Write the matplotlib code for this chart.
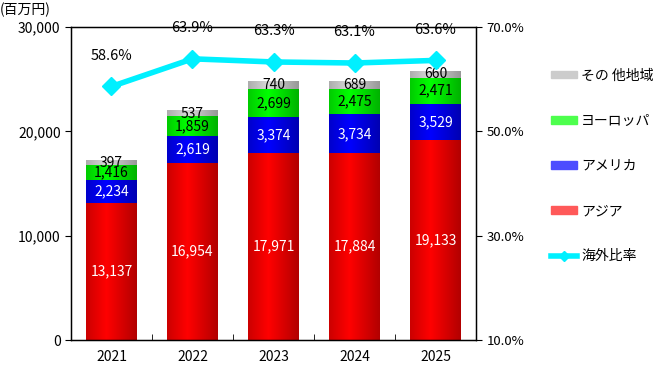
import matplotlib

matplotlib.use("Agg")
import matplotlib.pyplot as plt
import numpy as np
from matplotlib.lines import Line2D
from matplotlib.patches import Patch

plt.rcParams["font.family"] = ["Noto Sans CJK JP", "DejaVu Sans"]

years = ["2021", "2022", "2023", "2024", "2025"]
asia = [13137, 16954, 17971, 17884, 19133]
america = [2234, 2619, 3374, 3734, 3529]
europe = [1416, 1859, 2699, 2475, 2471]
other = [397, 537, 740, 689, 660]
overseas_ratio = [58.6, 63.9, 63.3, 63.1, 63.6]

series = [
    ("アジア", asia, (1.0, 0.0, 0.0), "white"),
    ("アメリカ", america, (0.0, 0.0, 1.0), "white"),
    ("ヨーロッパ", europe, (0.0, 1.0, 0.0), "black"),
    ("その 他地域", other, (0.85, 0.85, 0.85), "black"),
]


def gradient(rgb, n=64):
    # bright just left of centre, darker towards both edges (more on the right)
    t = np.linspace(0, 1, n)
    f = np.where(t < 0.4, 0.8 + 0.2 * t / 0.4, 1.0 - 0.3 * (t - 0.4) / 0.6)
    return np.clip(np.array(rgb)[None, None, :] * f[None, :, None], 0, 1)


fig = plt.figure(figsize=(6.53, 3.81), dpi=100)
ax = fig.add_axes([0.1087, 0.1076, 0.6203, 0.8215])
x = np.arange(len(years))
bottom = np.zeros(len(years))

for name, vals, rgb, tcol in series:
    vals = np.array(vals, dtype=float)
    bars = ax.bar(x, vals, 0.62, bottom=bottom, color="none", edgecolor="none")
    img = gradient(rgb)
    for b, v in zip(bars, vals):
        x0, y0 = b.get_x(), b.get_y()
        ax.imshow(img, extent=(x0, x0 + b.get_width(), y0, y0 + b.get_height()),
                  aspect="auto", zorder=2, interpolation="bilinear")
        ax.text(x0 + b.get_width() / 2, y0 + v / 2, f"{int(v):,}",
                ha="center", va="center", color=tcol, fontsize=10, zorder=4)
    bottom += vals

ax.set_xlim(-0.5, len(years) - 0.5)
ax.set_ylim(0, 30000)
ax.set_yticks([0, 10000, 20000, 30000])
ax.set_yticklabels(["0", "10,000", "20,000", "30,000"], fontsize=10)
ax.set_xticks(x)
ax.set_xticklabels(years, fontsize=10)
ax.tick_params(axis="x", length=0, pad=7)
ax.set_xticks(np.arange(len(years) - 1) + 0.5, minor=True)
ax.tick_params(axis="x", which="minor", direction="in", length=4)
ax.tick_params(axis="y", direction="out", length=4)
for s in ax.spines.values():
    s.set_linewidth(1.0)
fig.text(0.0, 0.955, "(百万円)", fontsize=10, ha="left", va="bottom")

ax2 = ax.twinx()
ax2.set_ylim(10, 70)
ax2.set_yticks([10, 30, 50, 70])
ax2.set_yticklabels([f"{v:.1f}%" for v in [10, 30, 50, 70]], fontsize=9.5)
ax2.tick_params(axis="y", direction="out", length=4)
ax2.plot(x, overseas_ratio, color="#00F0FF", lw=4, marker="D", ms=9,
         zorder=5)
for xi, r in zip(x, overseas_ratio):
    ax2.annotate(f"{r:.1f}%", (xi, r), xytext=(0, 17), textcoords="offset points",
                 ha="center", va="bottom", fontsize=10.5)

handles = [Patch(color=(0.8, 0.8, 0.8), label="その 他地域"),
           Patch(color=(0.3, 1.0, 0.3), label="ヨーロッパ"),
           Patch(color=(0.3, 0.3, 1.0), label="アメリカ"),
           Patch(color=(1.0, 0.35, 0.35), label="アジア"),
           Line2D([], [], color="#00F0FF", lw=4, marker="D", ms=5, label="海外比率")]
fig.legend(handles=handles, loc="upper left", bbox_to_anchor=(0.835, 0.835),
           frameon=False, fontsize=10, handlelength=1.9, handleheight=0.5,
           labelspacing=2.25, handletextpad=0.3, borderaxespad=0)

fig.savefig("out.png", dpi=100)
